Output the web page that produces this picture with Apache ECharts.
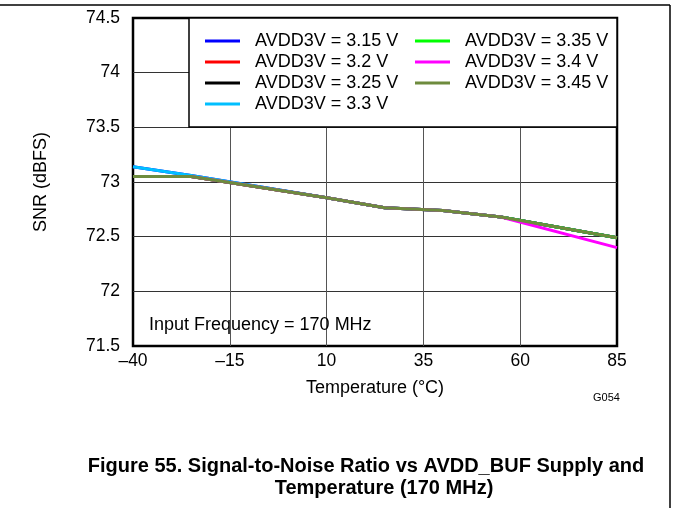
<!DOCTYPE html>
<html>
<head>
<meta charset="utf-8">
<script src="https://cdn.jsdelivr.net/npm/echarts@6/dist/echarts.min.js"></script>
<style>
html,body{margin:0;padding:0;background:#fff;}
#c{width:677px;height:508px;}
</style>
</head>
<body>
<div id="c"></div>
<script>
var temps = [-40, -25, 10, 25, 40, 55, 85];
var names = ['AVDD3V = 3.15 V','AVDD3V = 3.2 V','AVDD3V = 3.25 V','AVDD3V = 3.3 V','AVDD3V = 3.35 V','AVDD3V = 3.4 V','AVDD3V = 3.45 V'];
var colors = ['#0000FF','#FF0000','#000000','#00BFFF','#00FF00','#FF00FF','#6E8B3D'];
var v315 = [73.14, 73.06, 72.855, 72.765, 72.74, 72.68, 72.49];
var v320 = [73.05, 73.05, 72.855, 72.765, 72.74, 72.68, 72.49];
var v325 = [73.05, 73.05, 72.855, 72.765, 72.74, 72.68, 72.49];
var v330 = [73.14, 73.06, 72.855, 72.765, 72.74, 72.68, 72.49];
var v335 = [73.05, 73.05, 72.855, 72.765, 72.74, 72.68, 72.49];
var v340 = [73.05, 73.05, 72.855, 72.765, 72.74, 72.68, 72.40];
var v345 = [73.05, 73.05, 72.855, 72.765, 72.74, 72.68, 72.49];
var allVals = [v315, v320, v325, v330, v335, v340, v345];
var xTicks = [-40, -15, 10, 35, 60, 85];
var yTicks = [71.5, 72, 72.5, 73, 73.5, 74, 74.5];

var FONT = '"Liberation Sans", Arial, sans-serif';
var chart = echarts.init(document.getElementById('c'), null, {renderer:'canvas'});

var series = names.map(function(n, i){
  return {
    name: n, type: 'line', symbol: 'none', z: 3 + i,
    lineStyle: {width: 3, color: colors[i]},
    itemStyle: {color: colors[i]},
    data: temps.map(function(t, j){ return [t, allVals[i][j]]; })
  };
});

var legendCommon = {
  orient: 'vertical', icon: 'rect', itemWidth: 35, itemHeight: 3, itemGap: 3, z: 20, padding: 0,
  textStyle: {fontFamily: FONT, fontSize: 18, color: '#000', lineHeight: 18, padding: [0,0,0,10]},
  selectedMode: false
};

chart.setOption({
  animation: false,
  grid: {left: 133, right: 60, top: 18, bottom: 162, show: true, borderColor: '#000', borderWidth: 2.5, backgroundColor: 'transparent'},
  xAxis: {
    type: 'value', min: -40, max: 85, interval: 25,
    axisLine: {show: false}, axisTick: {show: false},
    splitLine: {show: true, showMinLine: false, showMaxLine: false, lineStyle: {color: '#555', width: 1}},
    axisLabel: {fontFamily: FONT, fontSize: 17.5, color: '#000', margin: 6,
      formatter: function(v){ return v < 0 ? '\u2013' + Math.abs(v) : String(v); }},
    name: 'Temperature (\u00B0C)', nameLocation: 'middle', nameGap: 33,
    nameTextStyle: {fontFamily: FONT, fontSize: 18, color: '#000'}
  },
  yAxis: {
    type: 'value', min: 71.5, max: 74.5, interval: 0.5,
    axisLine: {show: false}, axisTick: {show: false},
    splitLine: {show: true, showMinLine: false, showMaxLine: false, lineStyle: {color: '#333', width: 1}},
    axisLabel: {fontFamily: FONT, fontSize: 17.5, color: '#000', margin: 13,
      formatter: function(v){ return String(v); }},
    name: 'SNR (dBFS)', nameLocation: 'middle', nameGap: 83, nameRotate: 90,
    nameTextStyle: {fontFamily: FONT, fontSize: 18, color: '#000'}
  },
  legend: [
    Object.assign({left: 205, top: 32, data: names.slice(0, 4)}, legendCommon),
    Object.assign({left: 415, top: 32, data: names.slice(4)}, legendCommon)
  ],
  graphic: [
    {type: 'line', shape: {x1: 0, y1: 5, x2: 670, y2: 5}, style: {stroke: '#000', lineWidth: 1.5}, silent: true},
    {type: 'line', shape: {x1: 670, y1: 5, x2: 670, y2: 508}, style: {stroke: '#000', lineWidth: 1.5}, silent: true},
    {type: 'rect', shape: {x: 189, y: 18, width: 428, height: 109}, style: {fill: '#fff', stroke: '#000', lineWidth: 1.5}, z: 15, silent: true},
    {type: 'text', left: 149, top: 316, z: 15, style: {text: 'Input Frequency = 170 MHz', font: '18px ' + FONT, fill: '#000'}},
    {type: 'text', left: 593, top: 392, z: 15, style: {text: 'G054', font: '11px ' + FONT, fill: '#000'}},
    {type: 'text', x: 366, y: 466, z: 15, style: {text: 'Figure 55. Signal-to-Noise Ratio vs AVDD_BUF Supply and', font: 'bold 20px ' + FONT, fill: '#000', align: 'center', verticalAlign: 'middle'}},
    {type: 'text', x: 384, y: 488, z: 15, style: {text: 'Temperature (170 MHz)', font: 'bold 20px ' + FONT, fill: '#000', align: 'center', verticalAlign: 'middle'}}
  ],
  series: series
});
</script>
</body>
</html>
